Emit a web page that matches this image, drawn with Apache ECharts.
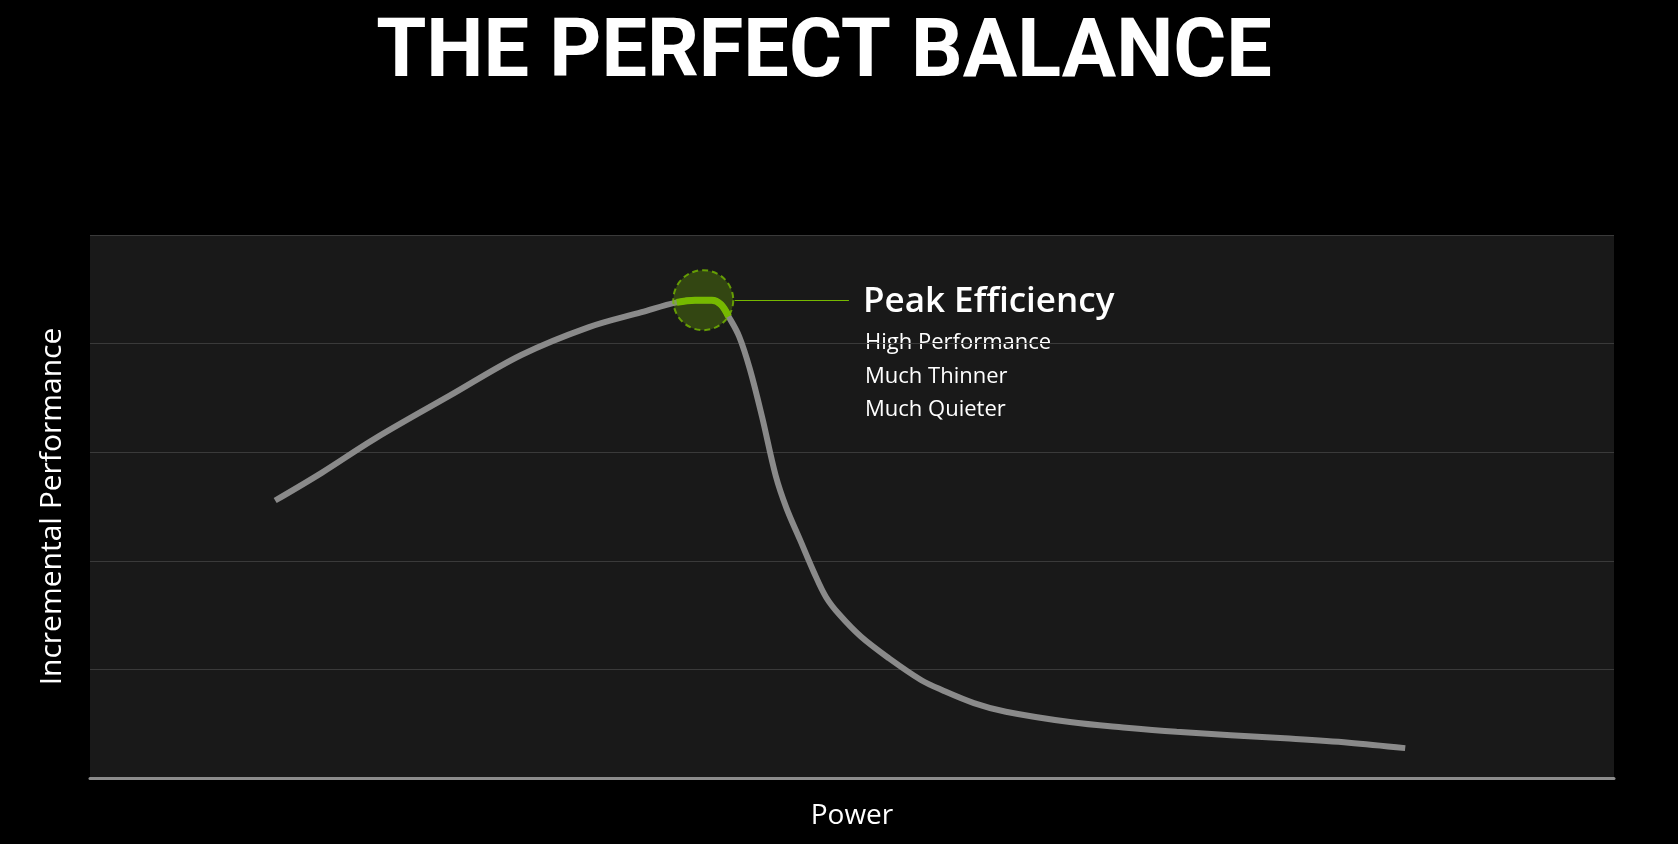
<!DOCTYPE html>
<html>
<head>
<meta charset="utf-8">
<script src="https://cdn.jsdelivr.net/npm/echarts@6/dist/echarts.min.js"></script>
<style>
html,body{margin:0;padding:0;background:#000;}
#chart{width:1678px;height:844px;}
</style>
</head>
<body>
<div id="chart"></div>
<script>
// Power (0-100 across the plot) and incremental performance (0-100)
var powerX = [12.15, 15.2, 18.7, 23.6, 28.3, 32.7, 36.2, 38.5, 39.7, 40.8, 41.4, 41.9, 42.6, 43.3, 44.1, 45.0, 45.7, 46.6, 47.5, 48.3, 49.2, 50.6, 52.4, 54.5, 55.9, 58.0, 60.1, 64.3, 67.8, 71.3, 78.4, 82.6, 86.3];
var perfY  = [51.1, 56.2, 62.5, 70.4, 77.9, 83.0, 85.8, 87.6, 88.0, 88.0, 87.2, 85.0, 81.3, 75.3, 66.5, 55.6, 49.7, 43.8, 37.9, 33.3, 30.0, 26.0, 22.1, 18.1, 16.2, 13.8, 12.2, 10.3, 9.3, 8.5, 7.3, 6.5, 5.5];
var peakStart = 7, peakEnd = 11;          // indices of the highlighted peak segment
var peakPoint = [40.24, 88.0];            // centre of the peak marker
var connector = [[42.3, 88.0], [49.8, 88.0]];
var titleText = 'THE PERFECT BALANCE';
var xName = 'Power';
var yName = 'Incremental Performance';
var calloutTitle = 'Peak Efficiency';
var calloutLines = ['High Performance', 'Much Thinner', 'Much Quieter'];

var curve = powerX.map(function (x, i) { return [x, perfY[i]]; });
var peakSeg = curve.slice(peakStart, peakEnd + 1);

var chart = echarts.init(document.getElementById('chart'));
var font = '"Open Sans", "DejaVu Sans", sans-serif';
var graphics = [
  { type: 'text', x: 824, y: 15,
    style: { text: titleText, fill: '#fff', font: 'bold 81px Roboto, sans-serif', textAlign: 'center' } },
  { type: 'text', left: 863, top: 285,
    style: { text: calloutTitle, fill: '#fff', font: '600 35px ' + font } }
];
var lineTops = [332, 366, 399];
calloutLines.forEach(function (t, i) {
  graphics.push({ type: 'text', left: 865, top: lineTops[i],
    style: { text: t, fill: '#fff', font: '400 22px ' + font } });
});

chart.setOption({
  backgroundColor: '#000',
  animation: false,
  grid: { left: 90, right: 64, top: 235, bottom: 66, show: true, backgroundColor: '#191919', borderWidth: 0 },
  xAxis: {
    type: 'value', min: 0, max: 100,
    name: xName, nameLocation: 'middle', nameGap: 24,
    nameTextStyle: { color: '#fff', fontSize: 28, fontFamily: font },
    axisLine: { show: true, lineStyle: { color: '#8c8c8c', width: 3 } },
    axisTick: { show: false }, axisLabel: { show: false }, splitLine: { show: false }
  },
  yAxis: {
    type: 'value', min: 0, max: 100, interval: 20,
    name: yName, nameLocation: 'middle', nameGap: 23,
    nameTextStyle: { color: '#fff', fontSize: 30, fontFamily: font },
    axisLine: { show: false }, axisTick: { show: false }, axisLabel: { show: false },
    splitLine: { show: true, lineStyle: { color: '#3a3a3a', width: 1 } }
  },
  graphic: graphics,
  series: [
    {
      type: 'line', data: curve, smooth: 0.35, symbol: 'none',
      lineStyle: { color: '#8a8a8a', width: 6, cap: 'butt' }, z: 2
    },
    {
      type: 'scatter', data: [peakPoint], symbol: 'circle', symbolSize: 60,
      itemStyle: { color: 'rgba(118,185,0,0.35)', borderColor: '#76b900', borderWidth: 2, borderType: [6, 4] },
      z: 3, silent: true
    },
    {
      type: 'line', data: peakSeg, smooth: 0.35, symbol: 'none',
      lineStyle: { color: '#76b900', width: 7, cap: 'butt' }, z: 4,
      markLine: {
        silent: true, symbol: 'none', label: { show: false },
        lineStyle: { color: '#76b900', width: 1, type: 'solid' },
        data: [[{ coord: connector[0] }, { coord: connector[1] }]]
      }
    }
  ]
});
</script>
</body>
</html>
